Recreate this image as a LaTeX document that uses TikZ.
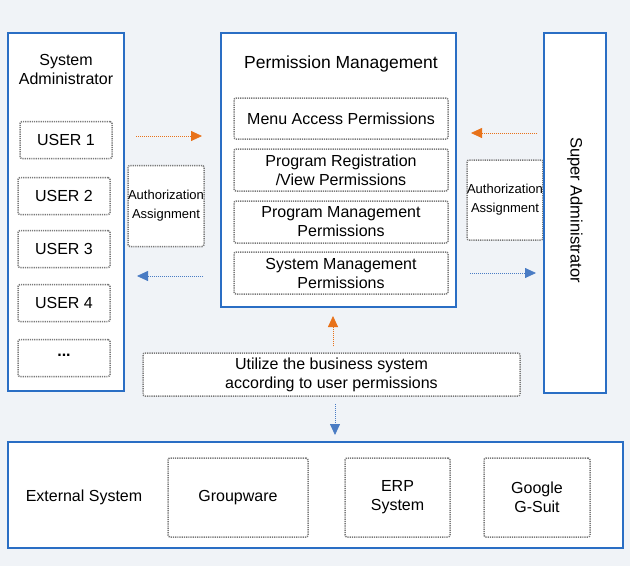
\documentclass[tikz,border=0pt]{standalone}
\usepackage{fontspec}
\setmainfont{Liberation Sans}
\usetikzlibrary{arrows.meta,calc}
\definecolor{bgcol}{RGB}{240,243,247}
\definecolor{framecol}{RGB}{42,110,196}
\definecolor{dotcol}{RGB}{120,120,120}
\definecolor{arrorange}{RGB}{232,114,26}
\definecolor{arrblue}{RGB}{74,124,196}
\tikzset{
  bluebox/.style={draw=framecol,line width=2pt,fill=white,inner sep=0pt},
  dotbox/.style={draw=dotcol,line width=1.5pt,dash pattern=on 1.2pt off 1pt,
    rounded corners=2pt,fill=white,inner sep=0pt,align=center},
  orangearr/.style={draw=arrorange,line width=0.8pt,dash pattern=on 1pt off 1pt,
    -{Triangle[length=11pt,width=10pt,fill=arrorange]}},
  bluearr/.style={draw=arrblue,line width=0.8pt,dash pattern=on 1pt off 1pt,
    -{Triangle[length=11pt,width=10pt,fill=arrblue]}},
  txt/.style={font=\fontsize{16}{19}\selectfont}
}
\begin{document}
\begin{tikzpicture}[x=1pt,y=-1pt]
        \fill[bgcol] (0,0) rectangle (630,566);
        \useasboundingbox (0,0) rectangle (630,566);

        % left column
        \node[bluebox,minimum width=116pt,minimum height=358pt] (sysadmin) at (66,212) {};
        \node[txt,align=center] (sysadmintxt) at (66,69) {System\\Administrator};
        \node[dotbox,txt,minimum width=92pt,minimum height=37pt] (user1) at (66,140) {USER 1};
        \node[dotbox,txt,minimum width=92pt,minimum height=37pt] (user2) at (64,196) {USER 2};
        \node[dotbox,txt,minimum width=92pt,minimum height=37pt] (user3) at (64,249) {USER 3};
        \node[dotbox,txt,minimum width=92pt,minimum height=37pt] (user4) at (64,303) {USER 4};
        \node[dotbox,txt,minimum width=92pt,minimum height=37pt,text depth=6pt] (user5) at (64,358) {\textbf{...}};

        % authorization boxes
        \node[dotbox,font=\fontsize{13}{19}\selectfont,minimum width=76pt,minimum height=81pt] (authL) at (166,206) {Authorization\\Assignment};
        \node[dotbox,font=\fontsize{13}{19}\selectfont,minimum width=71pt,minimum height=80pt] (authR) at (505,200) {Authorization\\Assignment};

        % permission management
        \node[bluebox,minimum width=235pt,minimum height=274pt] (permmgmt) at (338.5,170) {};
        \node[font=\fontsize{17.5}{20}\selectfont] (permtxt) at (341,64) {Permission Management};
        \node[dotbox,txt,minimum width=214pt,minimum height=41pt] (menuperm) at (341,118.5) {Menu Access Permissions};
        \node[dotbox,txt,minimum width=214pt,minimum height=42pt] (regperm) at (341,170) {Program Registration\\/View Permissions};
        \node[dotbox,txt,minimum width=214pt,minimum height=42pt] (progperm) at (341,222) {Program Management\\Permissions};
        \node[dotbox,txt,minimum width=214pt,minimum height=42pt] (sysperm) at (341,273) {System Management\\Permissions};

        % super administrator
        \node[bluebox,minimum width=62pt,minimum height=360pt] (superadmin) at (575,213) {};
        \node[font=\fontsize{16.5}{19}\selectfont,rotate=-90] (supertxt) at (575,210) {Super Administrator};

        % usage box
        \node[dotbox,txt,minimum width=377pt,minimum height=43pt] (utilize) at (331.5,374.5) {Utilize the business system\\according to user permissions};

        % external systems
        \node[bluebox,minimum width=615pt,minimum height=106pt] (external) at (315.5,495) {};
        \node[txt] (exttxt) at (84,497) {External System};
        \node[dotbox,txt,minimum width=140pt,minimum height=79pt] (groupware) at (238,497.5) {Groupware};
        \node[dotbox,txt,minimum width=105pt,minimum height=79pt] (erp) at (397.5,497.5) {ERP\\System};
        \node[dotbox,txt,minimum width=106pt,minimum height=79pt] (google) at (537,497.5) {Google\\G-Suit};

        % arrows
        \coordinate (oLs) at (136,136);
        \coordinate (oLe) at (202,136);
        \coordinate (bLs) at (203,276);
        \coordinate (bLe) at (137,276);
        \coordinate (oRs) at (537,133);
        \coordinate (oRe) at (471,133);
        \coordinate (bRs) at (470,273);
        \coordinate (bRe) at (536,273);
        \draw[orangearr] (oLs) -- (oLe);
        \draw[bluearr] (bLs) -- (bLe);
        \draw[orangearr] (oRs) -- (oRe);
        \draw[bluearr] (bRs) -- (bRe);
        \draw[orangearr,shorten <=6pt,shorten >=8pt] ([xshift=1.5pt]utilize.north) -- ([xshift=1.5pt]utilize.north |- permmgmt.south);
        \draw[bluearr,shorten <=7pt,shorten >=6pt] ([xshift=3.5pt]utilize.south) -- ([xshift=3.5pt]utilize.south |- external.north);
\end{tikzpicture}
\end{document}
